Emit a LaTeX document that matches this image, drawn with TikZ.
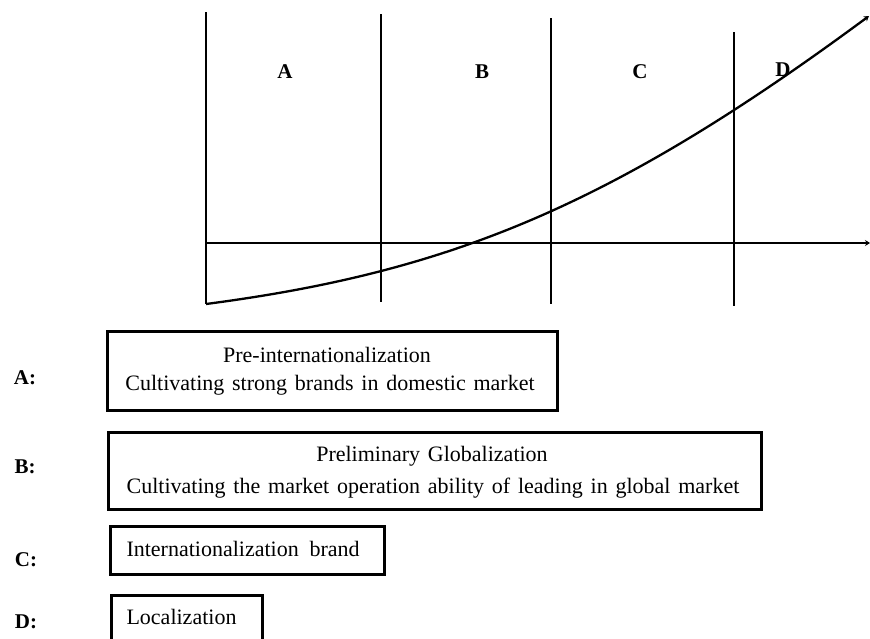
\documentclass[tikz,border=0pt]{standalone}
\usepackage{fontspec}
\setmainfont{Liberation Serif}
\usetikzlibrary{arrows.meta}
\newcommand\widewordspace{\spaceskip 7.8pt\relax}
\begin{document}
\begin{tikzpicture}[x=1pt,y=-1pt,
  axisline/.style={line width=2.3pt,black},
  stagebox/.style={draw,line width=2.8pt,inner sep=0pt,anchor=north west},
  boxtext/.style={font=\fontsize{22}{26}\selectfont\widewordspace},
  letter/.style={font=\fontsize{21}{24}\selectfont\bfseries}]
\useasboundingbox (0,0) rectangle (870,638);

% phase boundaries
\coordinate (v0t) at (206,12);  \coordinate (v0b) at (206,304);
\coordinate (v1t) at (381,14);  \coordinate (v1b) at (381,302);
\coordinate (v2t) at (551,18);  \coordinate (v2b) at (551,304);
\coordinate (v3t) at (734,32);  \coordinate (v3b) at (734,306);
\foreach \i in {0,...,3} \draw[axisline] (v\i t) -- (v\i b);

% horizontal axis
\coordinate (ax0) at (206,243);
\coordinate (ax1) at (870,243);
\draw[axisline,-{Stealth[length=5pt,width=6pt]}] (ax0) -- (ax1);

% growth curve
\coordinate (c0) at (206,304);
\coordinate (c1) at (869,16);
\draw[axisline,-{Stealth[length=5pt,width=6pt]}]
  (c0) .. controls (450,272) and (612,206) .. (c1);

% phase letters
\node[letter] (pa) at (285,72) {A};
\node[letter] (pb) at (482,72) {B};
\node[letter] (pc) at (640,72) {C};
\node[letter] (pd) at (783,70) {D};

% legend boxes
\node[stagebox,minimum width=450pt,minimum height=79pt] (ba) at (106,330) {};
\node[boxtext] at (327,355) {Pre-internationalization};
\node[boxtext] at (330,385) {Cultivating strong brands in domestic market};

\node[stagebox,minimum width=653pt,minimum height=77pt] (bb) at (107,431) {};
\node[boxtext] at (432,456) {Preliminary Globalization};
\node[boxtext] at (433,488) {Cultivating the market operation ability of leading in global market};

\node[stagebox,minimum width=274pt,minimum height=48pt] (bc) at (109,525) {};
\node[boxtext,anchor=west] at (123,549) {Internationalization\hspace{3pt} brand};

\node[stagebox,minimum width=151pt,minimum height=60pt] (bd) at (110,594) {};
\node[boxtext,anchor=west] at (123,617) {Localization};

% legend keys
\node[letter] (ka) at (25,378) {A:};
\node[letter] (kb) at (25,467) {B:};
\node[letter] (kc) at (26,560) {C:};
\node[letter] (kd) at (26,622) {D:};
\end{tikzpicture}
\end{document}
